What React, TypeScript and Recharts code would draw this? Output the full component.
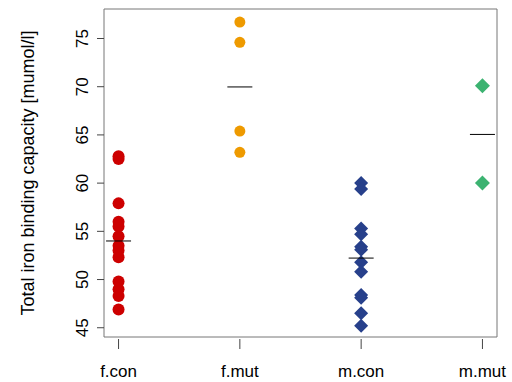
import { ReferenceArea, Scatter, ScatterChart, XAxis, YAxis } from "recharts";

const groups = ["f.con", "f.mut", "m.con", "m.mut"];
const fCon = [62.8, 62.5, 57.9, 56.0, 55.5, 54.5, 53.5, 53.0, 52.3, 49.8, 49.0, 48.3, 46.9];
const fMut = [76.7, 74.6, 65.4, 63.2];
const mCon = [60.0, 59.4, 55.3, 54.7, 53.4, 53.1, 51.8, 50.8, 48.4, 48.1, 46.5, 45.2];
const mMut = [70.1, 60.0];
const yTicks = [45, 50, 55, 60, 65, 70, 75];

const series = [fCon, fMut, mCon, mMut];
const colors = ["#CD0000", "#EE9A00", "#27408B", "#3CB371"];

const toPoints = (values: number[], i: number) => values.map((v) => ({ x: i + 1, y: v }));
const means = series.map((vals, i) => ({
  x: i + 1,
  y: vals.reduce((a, b) => a + b, 0) / vals.length,
}));

const font = "'Liberation Sans', Arial, sans-serif";

function Circle(props: any) {
  const { cx, cy, fill, r } = props;
  return <circle cx={cx} cy={cy} r={r} fill={fill} />;
}

function Diamond(props: any) {
  const { cx, cy, fill, r } = props;
  return <polygon points={`${cx},${cy - r} ${cx + r},${cy} ${cx},${cy + r} ${cx - r},${cy}`} fill={fill} />;
}

function MeanBar(props: any) {
  const { cx, cy } = props;
  return <line x1={cx - 12.5} x2={cx + 12.5} y1={cy} y2={cy} stroke="#000" strokeWidth={1} />;
}

function YTick(props: any) {
  const { x, y, payload } = props;
  return (
    <g>
      <line x1={x + 1} x2={x + 8} y1={y} y2={y} stroke="#444" />
      <text x={x - 8} y={y} transform={`rotate(-90 ${x - 8} ${y})`} textAnchor="middle" fontSize={17} fontFamily={font} fill="#000">
        {payload.value}
      </text>
    </g>
  );
}

function XTick(props: any) {
  const { x, y, payload } = props;
  return (
    <g>
      <line x1={x} x2={x} y1={y - 6} y2={y + 4} stroke="#444" />
      <text x={x} y={y + 32} textAnchor="middle" fontSize={17} fontFamily={font} fill="#000">
        {groups[payload.value - 1]}
      </text>
    </g>
  );
}

export default function App() {
  return (
    <div style={{ position: "absolute", left: 0, top: 0, background: "#fff" }}>
      <ScatterChart width={512} height={382} margin={{ top: 9, right: 15, bottom: 0, left: 0 }}>
        <XAxis
          type="number"
          dataKey="x"
          domain={[0.88, 4.12]}
          ticks={[1, 2, 3, 4]}
          axisLine={false}
          tickLine={false}
          tick={<XTick />}
          height={45}
          allowDataOverflow
        />
        <YAxis
          type="number"
          dataKey="y"
          domain={[44.04, 78.06]}
          ticks={yTicks}
          axisLine={false}
          tickLine={false}
          tick={<YTick />}
          width={104}
          allowDataOverflow
        />
        <ReferenceArea x1={0.88} x2={4.12} y1={44.04} y2={78.06} fill="none" stroke="#777" strokeWidth={1} />
        <Scatter data={toPoints(fCon, 0)} fill={colors[0]} shape={<Circle r={6} />} isAnimationActive={false} />
        <Scatter data={toPoints(fMut, 1)} fill={colors[1]} shape={<Circle r={5.5} />} isAnimationActive={false} />
        <Scatter data={toPoints(mCon, 2)} fill={colors[2]} shape={<Diamond r={7} />} isAnimationActive={false} />
        <Scatter data={toPoints(mMut, 3)} fill={colors[3]} shape={<Diamond r={7.5} />} isAnimationActive={false} />
        <Scatter data={means} shape={<MeanBar />} isAnimationActive={false} />
        <text x={28} y={173} transform="rotate(-90 28 173)" textAnchor="middle" dominantBaseline="central" fontSize={18} fontFamily={font} fill="#000">
          Total iron binding capacity [mumol/l]
        </text>
      </ScatterChart>
    </div>
  );
}
